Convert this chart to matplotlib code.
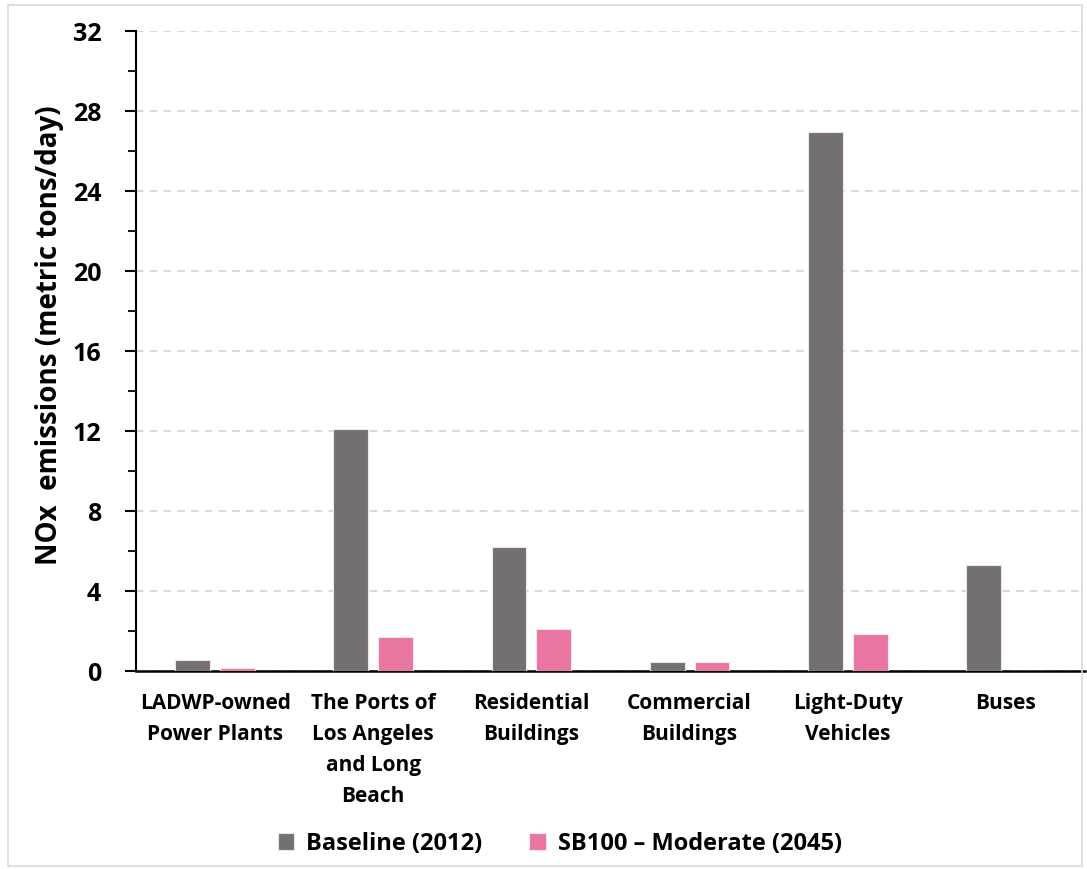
import numpy as np
import matplotlib
matplotlib.use("Agg")
import matplotlib.pyplot as plt
from matplotlib.patches import Rectangle
from matplotlib.ticker import MultipleLocator

categories = ["LADWP-owned\nPower Plants", "The Ports of\nLos Angeles\nand Long\nBeach",
              "Residential\nBuildings", "Commercial\nBuildings", "Light-Duty\nVehicles", "Buses"]
baseline_2012 = [0.53, 12.1, 6.2, 0.45, 26.95, 5.3]
sb100_moderate_2045 = [0.15, 1.68, 2.12, 0.45, 1.83, 0.0]
series_names = ["Baseline (2012)", "SB100 \u2013 Moderate (2045)"]

plt.rcParams['font.family'] = ['Open Sans', 'DejaVu Sans']
plt.rcParams['font.weight'] = 'bold'

fig = plt.figure(figsize=(10.87, 8.69), dpi=100)
ax = fig.add_axes([0.1251, 0.2278, 0.8731, 0.7365])

x = np.arange(len(categories))
w = 0.22
ax.bar(x - 0.142, baseline_2012, w, color='#757070', edgecolor='#e8e8e8', linewidth=0.8,
       label=series_names[0], zorder=3)
ax.bar(x + 0.142, sb100_moderate_2045, w, color='#E975A2', edgecolor='#f3e6ec', linewidth=0.8,
       label=series_names[1], zorder=3)

ax.set_xlim(-0.5, len(categories) - 0.5)
ax.set_ylim(0, 32)
ax.yaxis.set_major_locator(MultipleLocator(4))
ax.yaxis.set_minor_locator(MultipleLocator(2))
ax.grid(axis='y', which='major', color='#d0d0d0', linestyle=(0, (5, 4)), linewidth=1.1, zorder=0)
ax.set_axisbelow(True)

for s in ['top', 'right']:
    ax.spines[s].set_visible(False)
ax.spines['left'].set_linewidth(1.5)
ax.spines['bottom'].set_linewidth(1.8)
ax.spines['bottom'].set_color('black')

ax.tick_params(axis='y', which='major', length=8, width=1.5, labelsize=18, pad=17)
ax.tick_params(axis='y', which='minor', length=6, width=1.3)
ax.tick_params(axis='x', length=0, labelsize=15, pad=16)
ax.set_xticks(x)
ax.set_xticklabels(categories, fontweight='bold', va='top', linespacing=1.62)
for lbl in ax.get_yticklabels():
    lbl.set_fontweight('bold')

ax.set_ylabel("NOx  emissions (metric tons/day)", fontsize=20, fontweight='bold')
ax.yaxis.set_label_coords(-0.076, 0.525)

leg = fig.legend(loc='center', bbox_to_anchor=(0.515, 0.029), ncol=2, frameon=False,
                 fontsize=17, handlelength=0.7, handleheight=0.7, columnspacing=2.0,
                 handletextpad=0.5)
for t in leg.get_texts():
    t.set_fontweight('bold')

fig.patches.append(Rectangle((0.007, 0.003), 0.988, 0.991, transform=fig.transFigure,
                             fill=False, edgecolor='#d9d9d9', linewidth=1.2))

fig.savefig("out.png", dpi=100)
